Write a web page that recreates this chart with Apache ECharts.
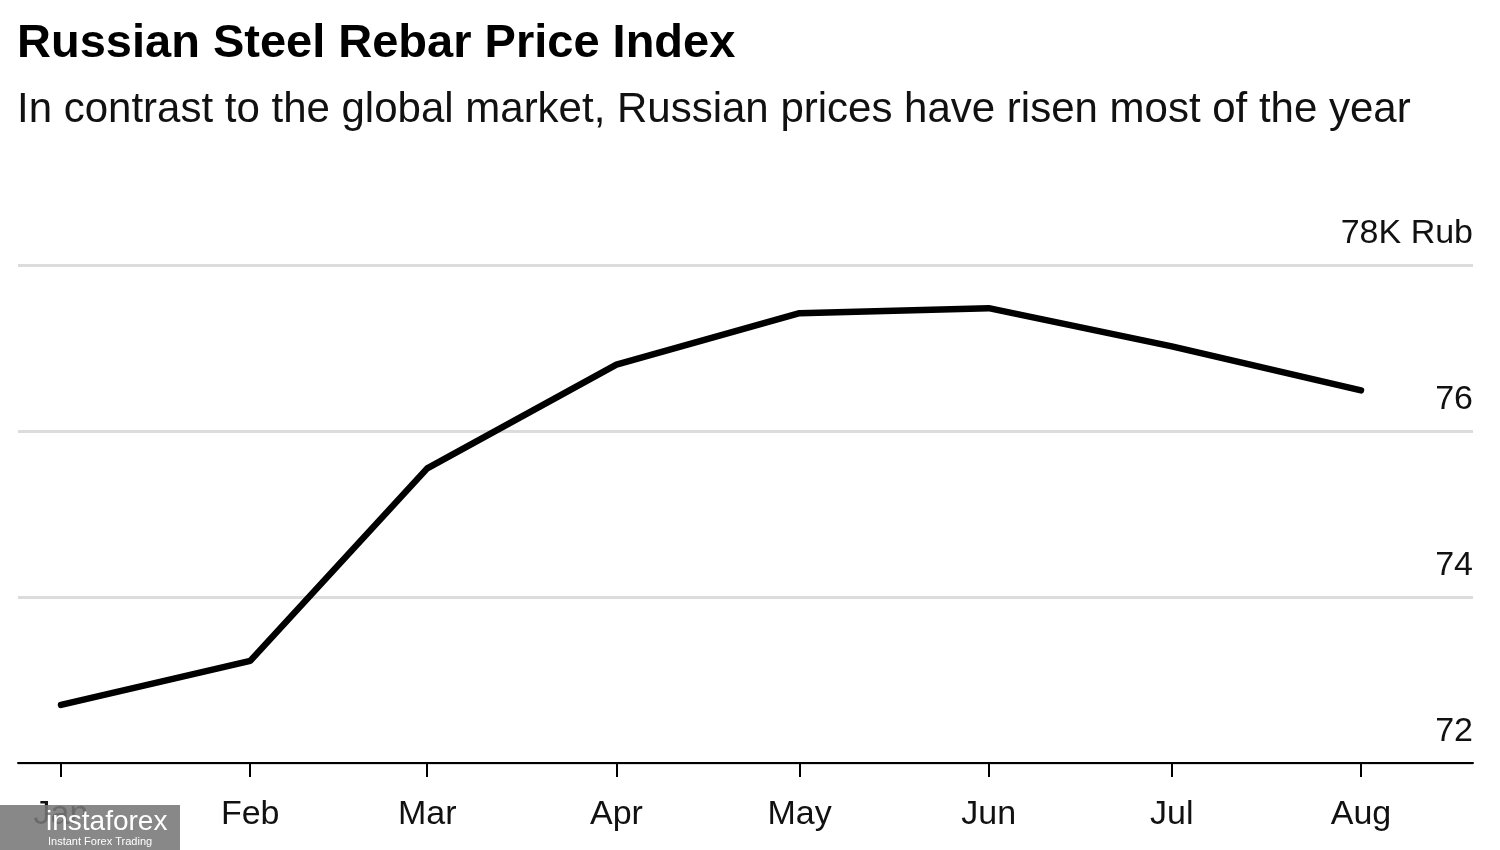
<!DOCTYPE html>
<html>
<head>
<meta charset="utf-8">
<script src="https://cdn.jsdelivr.net/npm/echarts@6/dist/echarts.min.js"></script>
<style>
html,body{margin:0;padding:0;background:#fff;}
#chart{width:1500px;height:850px;}
</style>
</head>
<body>
<div id="chart"></div>
<script>
// ---- data ----
const dates = ['2020-01-01','2020-02-01','2020-03-01','2020-04-01','2020-05-01','2020-06-01','2020-07-01','2020-08-01'];
const monthLabels = ['Jan','Feb','Mar','Apr','May','Jun','Jul','Aug'];
const prices = [72.70, 73.23, 75.55, 76.80, 77.42, 77.48, 77.02, 76.49];
const yTicks = [72, 74, 76, 78];
const titleText = 'Russian Steel Rebar Price Index';
const subtitleText = 'In contrast to the global market, Russian prices have risen most of the year';

const FONT = '"Liberation Sans", Arial, Helvetica, sans-serif';
const DAY = 86400000;
const toDay = d => Math.round(new Date(d + 'T00:00:00Z').getTime() / DAY);
const chart = echarts.init(document.getElementById('chart'));
const tickDays = dates.map(toDay);
const seriesData = dates.map((d, i) => [toDay(d), prices[i]]);

chart.setOption({
  animation: false,
  backgroundColor: '#ffffff',
  title: [
    { text: titleText, left: 12, top: 16,
      textStyle: { fontFamily: FONT, fontSize: 47, fontWeight: 'bold', color: '#000' } },
    { text: subtitleText, left: 12, top: 84,
      textStyle: { fontFamily: FONT, fontSize: 42, fontWeight: 'normal', color: '#111' } }
  ],
  grid: { left: 18, right: 27, top: 265, bottom: 87, containLabel: false },
  xAxis: {
    type: 'value',
    min: toDay('2019-12-25') - 0.05,
    max: toDay('2020-08-19') + 0.35,
    axisLine: { show: true, onZero: false, lineStyle: { color: '#000', width: 2 } },
    axisTick: { show: true, length: 14, lineStyle: { color: '#000', width: 2 }, customValues: tickDays },
    axisLabel: {
      customValues: tickDays,
      margin: 35,
      fontFamily: FONT, fontSize: 34, color: '#111',
      formatter: function (v) {
        const idx = tickDays.indexOf(v);
        return idx >= 0 ? monthLabels[idx] : '';
      }
    },
    splitLine: { show: false }
  },
  yAxis: {
    type: 'value',
    position: 'right',
    min: yTicks[0], max: yTicks[yTicks.length - 1], interval: 2,
    axisLine: { show: false },
    axisTick: { show: false },
    splitLine: { show: true, lineStyle: { color: '#dcdcdc', width: 3 } },
    axisLabel: {
      inside: true,
      margin: 0,
      verticalAlign: 'bottom',
      padding: [0, 0, 14, 0],
      fontFamily: FONT, fontSize: 34, color: '#111',
      formatter: function (v) { return v === yTicks[yTicks.length - 1] ? v + 'K Rub' : String(v); }
    }
  },
  series: [{
    type: 'line',
    data: seriesData,
    showSymbol: false,
    symbol: 'none',
    lineStyle: { color: '#000', width: 6.5, cap: 'round', join: 'round' }
  }],
  graphic: [
    { type: 'rect', left: 0, top: 805, shape: { width: 180, height: 45 },
      style: { fill: 'rgba(120,120,120,0.88)' }, z: 100 },
    { type: 'text', left: 46, top: 808,
      style: { text: 'instaforex', fill: '#fff', font: '28px ' + FONT }, z: 101 },
    { type: 'text', left: 48, top: 836,
      style: { text: 'Instant Forex Trading', fill: '#fff', font: '11px ' + FONT }, z: 101 }
  ]
});
</script>
</body>
</html>
